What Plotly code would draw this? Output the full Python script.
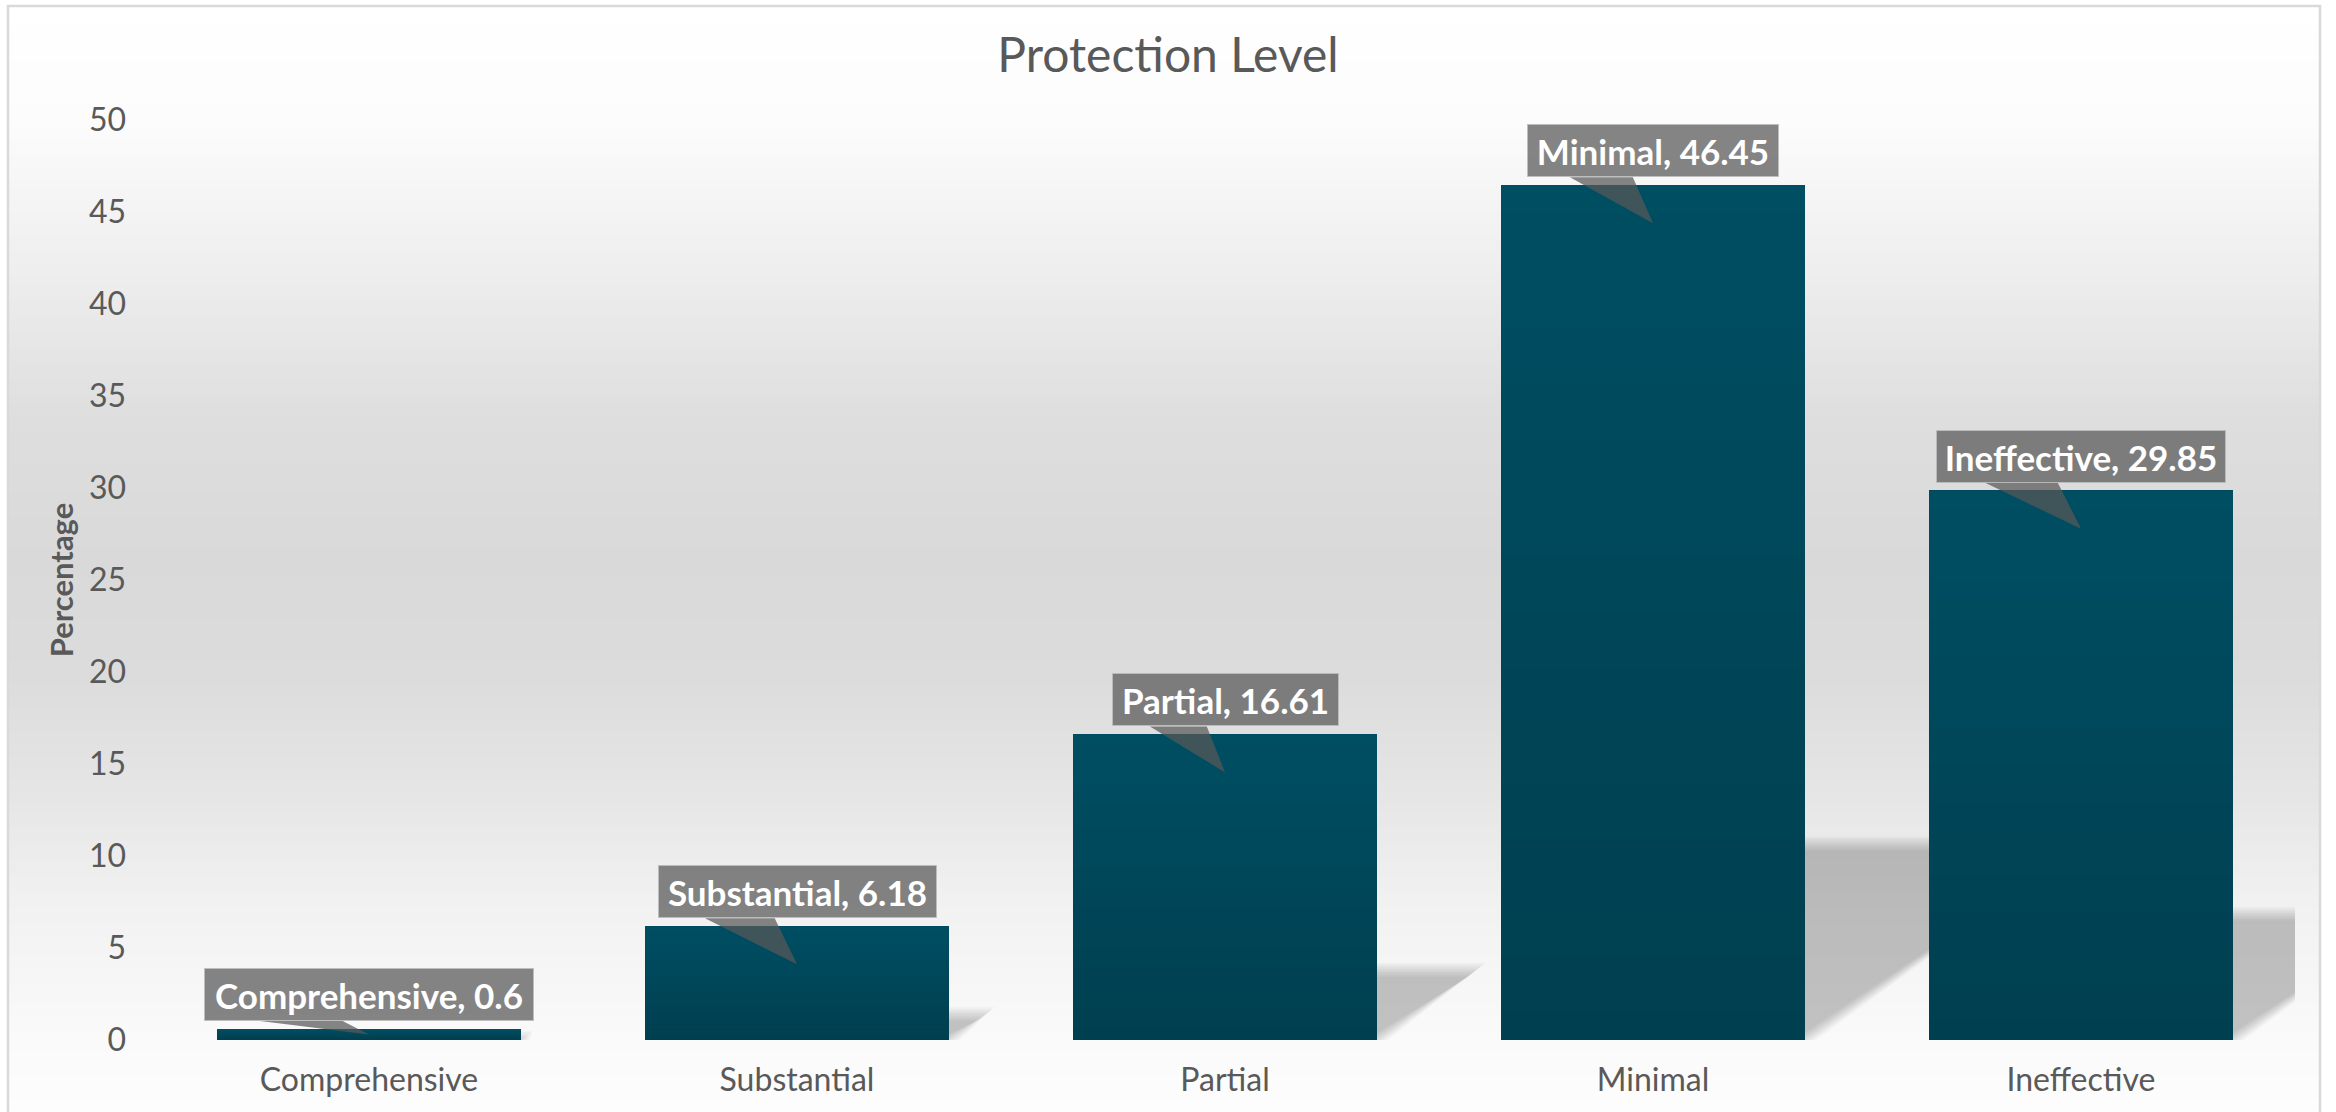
import plotly.graph_objects as go

# ---------------- data ----------------
categories = ["Comprehensive", "Substantial", "Partial", "Minimal", "Ineffective"]
values = [0.6, 6.18, 16.61, 46.45, 29.85]
y_ticks = [0, 5, 10, 15, 20, 25, 30, 35, 40, 45, 50]
chart_title = "Protection Level"
y_title = "Percentage"

# ---------------- layout constants (style) ----------------
W, H = 2336, 1112
PL, PR, PT, PB = 155, 2295, 120, 1040
YMAX = 50
BARGAP = 0.29
PPX = (PR - PL) / len(categories)      # px per category unit
PPY = (PB - PT) / YMAX                 # px per y unit
BAR_HALF = (1 - BARGAP) / 2
TXT = "#595959"
FONT = "Lato"


def paper_x(px):
    return (px - PL) / (PR - PL)


def paper_y(py):
    return (PB - py) / (PB - PT)


shapes = []

# ---- chart-area background gradient (white -> light grey -> white) ----
grad_stops = [(6, 255), (120, 252), (270, 238), (420, 222), (560, 217),
              (680, 220), (800, 230), (900, 241), (1040, 250), (1112, 253)]


def grey_at(py):
    for (a, ca), (b, cb) in zip(grad_stops[:-1], grad_stops[1:]):
        if a <= py <= b:
            t = (py - a) / (b - a)
            return ca + (cb - ca) * t
    return grad_stops[-1][1]


band = 6
py = 7
while py < H:
    g = int(round(grey_at(py + band / 2)))
    shapes.append(dict(type="rect", xref="paper", yref="paper", layer="below",
                       x0=paper_x(9), x1=paper_x(2319),
                       y0=paper_y(py), y1=paper_y(H + 20),
                       fillcolor=f"rgb({g},{g},{g})", line=dict(width=0)))
    py += band

# ---- frame border ----
shapes.append(dict(type="path", xref="paper", yref="paper", layer="below",
                   path=(f"M{paper_x(8)},{paper_y(H + 20)} L{paper_x(8)},{paper_y(6)} "
                         f"L{paper_x(2320)},{paper_y(6)} L{paper_x(2320)},{paper_y(H + 20)}"),
                   line=dict(color="#d9d9d9", width=2.5)))

# ---- perspective shadows (blurred by stacking layers) ----
K = 10
BLUR = 7.0
alpha = 1 - (1 - 0.20) ** (1 / K)
half_px = BAR_HALF * PPX
for i, v in enumerate(values):
    hs = 0.23 * v * PPY
    dx = hs / 0.7
    for k in range(K):
        e = -BLUR + 2 * BLUR * k / (K - 1)
        pts = [(-half_px, -0.3 * e), (half_px + 1.2 * e, -0.3 * e),
               (half_px + dx + 1.2 * e, hs + e), (-half_px + dx, hs + e)]
        path = "M" + " L".join(f"{i + x / PPX},{max(y, -3) / PPY}" for x, y in pts) + " Z"
        shapes.append(dict(type="path", xref="x", yref="y", layer="below", path=path,
                           fillcolor=f"rgba(0,0,0,{alpha:.4f})", line=dict(width=0)))

# ---- vertical gradient inside each bar ----
top_c = (0, 78, 98)
bot_c = (0, 63, 80)
N = 30
for i, v in enumerate(values):
    for j in range(N):
        t = j / (N - 1)
        c = tuple(int(round(bot_c[m] + (top_c[m] - bot_c[m]) * t)) for m in range(3))
        shapes.append(dict(type="rect", xref="x", yref="y", layer="above",
                           x0=i - BAR_HALF, x1=i + BAR_HALF, y0=v * j / N, y1=v,
                           fillcolor=f"rgb{c}", line=dict(width=0)))

# ---- data label callouts ----
LBL_SIZE = 35
LBL_FILL = "rgba(88,88,88,0.73)"
GAP = 8
cw = {'C': .66, 'M': .88, 'P': .60, 'S': .52, 'I': .28, 'a': .52, 'b': .57, 'c': .46,
      'e': .53, 'f': .33, 'h': .57, 'i': .26, 'l': .26, 'm': .86, 'n': .57, 'o': .57,
      'p': .57, 'r': .39, 's': .44, 't': .37, 'u': .57, 'v': .53, ',': .22, '.': .22,
      ' ': .19}

annotations = []
for i, (cat, v) in enumerate(zip(categories, values)):
    txt = f"{cat}, {v:g}"
    tw = sum(cw.get(ch, .58) for ch in txt) * LBL_SIZE
    bw = tw + 22
    annotations.append(dict(x=cat, y=v, xref="x", yref="y", text=txt, showarrow=False,
                            yanchor="bottom", xanchor="center", yshift=GAP,
                            width=round(tw) + 10, height=41, valign="middle",
                            bgcolor=LBL_FILL, bordercolor="rgba(190,190,190,0.8)",
                            borderwidth=1, borderpad=5,
                            font=dict(family=FONT, size=LBL_SIZE, color="white", weight="bold")))
    tip = -min(38, v * PPY / 2)
    path = (f"M{-0.33 * bw},{GAP} L{-0.08 * bw},{GAP} L0,{tip} Z")
    shapes.append(dict(type="path", xref="x", yref="y", layer="above",
                       xsizemode="pixel", ysizemode="pixel", xanchor=i, yanchor=v,
                       path=path, fillcolor=LBL_FILL, line=dict(width=0)))

fig = go.Figure(go.Bar(x=categories, y=values, marker=dict(color="#004b5f", line=dict(width=0)),
                       hoverinfo="x+y"))

fig.update_layout(
    width=W, height=H,
    margin=dict(l=PL, r=W - PR, t=PT, b=H - PB, autoexpand=False),
    paper_bgcolor="white", plot_bgcolor="rgba(0,0,0,0)",
    bargap=BARGAP, showlegend=False,
    title=dict(text=chart_title, x=0.5, xref="container", xanchor="center",
               y=1 - 55 / H, yref="container", yanchor="middle",
               font=dict(family=FONT, size=48, color=TXT)),
    xaxis=dict(range=[-0.5, len(categories) - 0.5], showgrid=False, zeroline=False,
               showline=False, ticks="",
               tickfont=dict(family=FONT, size=32, color=TXT), ticklabelstandoff=18),
    yaxis=dict(range=[0, YMAX], tickvals=y_ticks, showgrid=False, zeroline=False,
               showline=False, ticks="", ticklabelstandoff=28,
               tickfont=dict(family=FONT, size=32, color=TXT),
               title=dict(text=y_title, standoff=6,
                          font=dict(family=FONT, size=31, color=TXT, weight="bold"))),
    shapes=shapes, annotations=annotations,
)

fig.write_html("out.html")
